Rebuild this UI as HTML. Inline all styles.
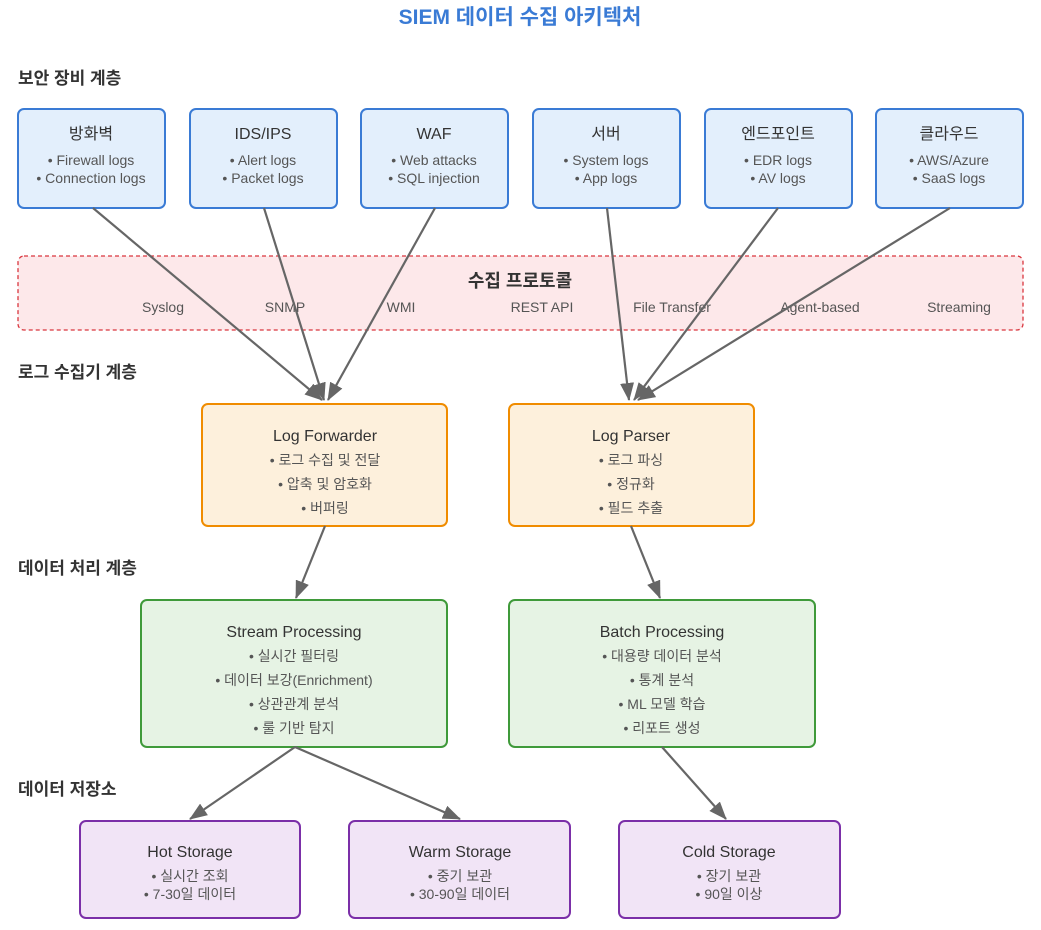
<!DOCTYPE html>
<html><head><meta charset="utf-8"><style>
body{margin:0;background:#fff}
svg text{font-family:"Liberation Sans","Noto Sans CJK KR",sans-serif}
</style></head><body>
<svg width="1041" height="925" xmlns="http://www.w3.org/2000/svg">
<defs><marker id="a" markerWidth="10" markerHeight="10" refX="9" refY="5" orient="auto" markerUnits="userSpaceOnUse" viewBox="0 0 10 10"><path d="M0,0 L10,5 L0,10 z" fill="#666"/></marker>
<marker id="b" markerWidth="18" markerHeight="14" refX="17" refY="7" orient="auto" markerUnits="userSpaceOnUse" viewBox="0 0 18 14"><path d="M0,0 L18,7 L0,14 z" fill="#666"/></marker></defs>
<text x="520" y="24" text-anchor="middle" font-size="21" font-weight="bold" fill="#3a7bd5">SIEM 데이터 수집 아키텍처</text>
<g font-size="17" font-weight="bold" fill="#333">
<text x="18" y="84">보안 장비 계층</text>
<text x="18" y="378">로그 수집기 계층</text>
<text x="18" y="574">데이터 처리 계층</text>
<text x="18" y="795">데이터 저장소</text>
</g>
<g fill="#e3effc" stroke="#3a7bd5" stroke-width="2">
<rect x="18" y="109" width="147" height="99" rx="6"/><rect x="190" y="109" width="147" height="99" rx="6"/><rect x="361" y="109" width="147" height="99" rx="6"/><rect x="533" y="109" width="147" height="99" rx="6"/><rect x="705" y="109" width="147" height="99" rx="6"/><rect x="876" y="109" width="147" height="99" rx="6"/>
</g>
<g text-anchor="middle" fill="#333">
<g font-size="16"><text x="91" y="139">방화벽</text><text x="263" y="139">IDS/IPS</text><text x="434" y="139">WAF</text><text x="606" y="139">서버</text><text x="778" y="139">엔드포인트</text><text x="949" y="139">클라우드</text></g>
<g font-size="14" fill="#555"><text x="91" y="165">• Firewall logs</text><text x="91" y="183">• Connection logs</text>
<text x="263" y="165">• Alert logs</text><text x="263" y="183">• Packet logs</text>
<text x="434" y="165">• Web attacks</text><text x="434" y="183">• SQL injection</text>
<text x="606" y="165">• System logs</text><text x="606" y="183">• App logs</text>
<text x="778" y="165">• EDR logs</text><text x="778" y="183">• AV logs</text>
<text x="949" y="165">• AWS/Azure</text><text x="949" y="183">• SaaS logs</text></g>
</g>
<rect x="18" y="256" width="1005" height="74" rx="6" fill="#fde8ea" stroke="#d9363e" stroke-width="1.3" stroke-dasharray="4,3"/>
<text x="520" y="287" text-anchor="middle" font-size="18" font-weight="bold" fill="#333">수집 프로토콜</text>
<g font-size="14" fill="#555" text-anchor="middle"><text x="163" y="312">Syslog</text><text x="285" y="312">SNMP</text><text x="401" y="312">WMI</text><text x="542" y="312">REST API</text><text x="672" y="312">File Transfer</text><text x="820" y="312">Agent-based</text><text x="959" y="312">Streaming</text></g>
<g fill="#fdf0dc" stroke="#f08c00" stroke-width="2"><rect x="202" y="404" width="245" height="122" rx="6"/><rect x="509" y="404" width="245" height="122" rx="6"/></g>
<g fill="#e6f3e4" stroke="#3f9a3a" stroke-width="2"><rect x="141" y="600" width="306" height="147" rx="6"/><rect x="509" y="600" width="306" height="147" rx="6"/></g>
<g fill="#f1e4f6" stroke="#7b2fa8" stroke-width="2"><rect x="80" y="821" width="220" height="97" rx="6"/><rect x="349" y="821" width="221" height="97" rx="6"/><rect x="619" y="821" width="221" height="97" rx="6"/></g>
<g text-anchor="middle" fill="#333">
<g font-size="16"><text x="325" y="441">Log Forwarder</text><text x="631" y="441">Log Parser</text><text x="294" y="637">Stream Processing</text><text x="662" y="637">Batch Processing</text><text x="190" y="857">Hot Storage</text><text x="460" y="857">Warm Storage</text><text x="729" y="857">Cold Storage</text></g>
<g font-size="14" fill="#555">
<text x="325" y="465">• 로그 수집 및 전달</text><text x="325" y="489">• 압축 및 암호화</text><text x="325" y="513">• 버퍼링</text>
<text x="631" y="465">• 로그 파싱</text><text x="631" y="489">• 정규화</text><text x="631" y="513">• 필드 추출</text>
<text x="294" y="661">• 실시간 필터링</text><text x="294" y="685">• 데이터 보강(Enrichment)</text><text x="294" y="709">• 상관관계 분석</text><text x="294" y="733">• 룰 기반 탐지</text>
<text x="662" y="661">• 대용량 데이터 분석</text><text x="662" y="685">• 통계 분석</text><text x="662" y="709">• ML 모델 학습</text><text x="662" y="733">• 리포트 생성</text>
<text x="190" y="881">• 실시간 조회</text><text x="190" y="899">• 7-30일 데이터</text>
<text x="460" y="881">• 중기 보관</text><text x="460" y="899">• 30-90일 데이터</text>
<text x="729" y="881">• 장기 보관</text><text x="729" y="899">• 90일 이상</text>
</g></g>
<g stroke="#666" stroke-width="2.2" fill="none" marker-end="url(#b)">
<line x1="93" y1="208" x2="322" y2="400"/><line x1="264" y1="208" x2="324" y2="400"/><line x1="435" y1="208" x2="328" y2="400"/>
<line x1="607" y1="208" x2="629" y2="400"/><line x1="778" y1="208" x2="634" y2="400"/><line x1="950" y1="208" x2="638" y2="400"/>
<line x1="325" y1="526" x2="296" y2="598"/><line x1="631" y1="526" x2="660" y2="598"/>
<line x1="295" y1="747" x2="190" y2="819"/><line x1="295" y1="747" x2="460" y2="819"/><line x1="662" y1="747" x2="726" y2="819"/>
</g>
</svg>
</body></html>
